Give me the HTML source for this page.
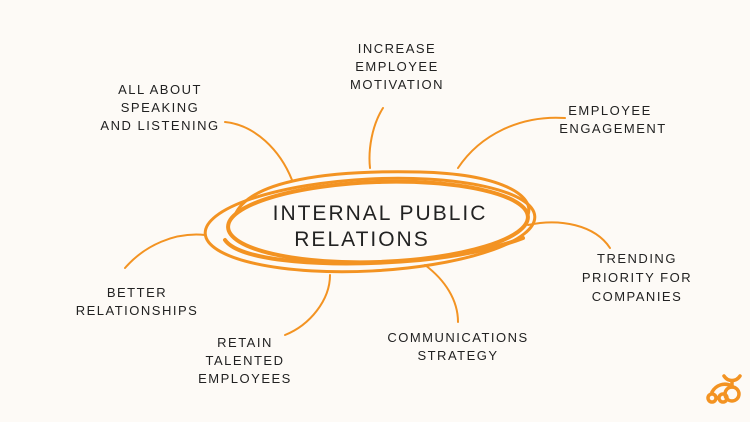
<!DOCTYPE html>
<html><head><style>
body{margin:0;width:750px;height:422px;background:#fdfaf6;overflow:hidden;}
svg{display:block}
text{font-family:"Liberation Sans",sans-serif;font-size:13px;fill:#222;letter-spacing:1.5px;text-anchor:middle;}
</style></head><body>
<svg width="750" height="422" viewBox="0 0 750 422">
<g fill="none" stroke="#f39322" stroke-width="2" stroke-linecap="round">
<path d="M225,122 C255,125 280,150 292,180"/>
<path d="M383,108 C372,125 368,150 370,168"/>
<path d="M565,118 C520,115 480,135 458,168"/>
<path d="M528,225 C560,218 595,225 610,248"/>
<path d="M425,265 C445,280 458,300 458,322"/>
<path d="M330,275 C330,300 310,325 285,335"/>
<path d="M125,268 C145,245 175,232 205,235"/>
</g>
<g fill="none" stroke="#f39322" stroke-linecap="round">
<ellipse cx="378" cy="222" rx="150" ry="40" stroke-width="4" transform="rotate(-2 378 222)"/>
<ellipse cx="370" cy="225" rx="165" ry="46" stroke-width="3" transform="rotate(-3 370 225)"/>
<path d="M235,215 C250,180 330,170 420,172 C500,174 535,195 528,215" stroke-width="3"/>
<path d="M225,240 C240,262 330,268 420,260 C470,255 505,245 523,238" stroke-width="4"/>
</g>
<text x="380" y="220" style="font-size:21px;letter-spacing:2px">INTERNAL PUBLIC</text>
<text x="362" y="246" style="font-size:21px;letter-spacing:2px">RELATIONS</text>
<text x="160" y="94">ALL ABOUT</text>
<text x="160" y="112">SPEAKING</text>
<text x="160" y="130">AND LISTENING</text>
<text x="397" y="53">INCREASE</text>
<text x="397" y="71">EMPLOYEE</text>
<text x="397" y="89">MOTIVATION</text>
<text x="610" y="115">EMPLOYEE</text>
<text x="613" y="133">ENGAGEMENT</text>
<text x="637" y="263">TRENDING</text>
<text x="637" y="282">PRIORITY FOR</text>
<text x="637" y="301">COMPANIES</text>
<text x="458" y="342">COMMUNICATIONS</text>
<text x="458" y="360">STRATEGY</text>
<text x="245" y="347">RETAIN</text>
<text x="245" y="365">TALENTED</text>
<text x="245" y="383">EMPLOYEES</text>
<text x="137" y="297">BETTER</text>
<text x="137" y="315">RELATIONSHIPS</text>
<g fill="none" stroke="#f39322" stroke-width="3.5" stroke-linecap="round">
<circle cx="712" cy="398" r="4"/>
<circle cx="723" cy="398" r="4"/>
<circle cx="732" cy="394" r="7"/>
<path d="M712,392 C716,385 724,382 732,386"/>
<path d="M724,376 C728,382 736,382 740,376"/>
<path d="M732,382 L732,387"/>
</g>
</svg>
</body></html>
